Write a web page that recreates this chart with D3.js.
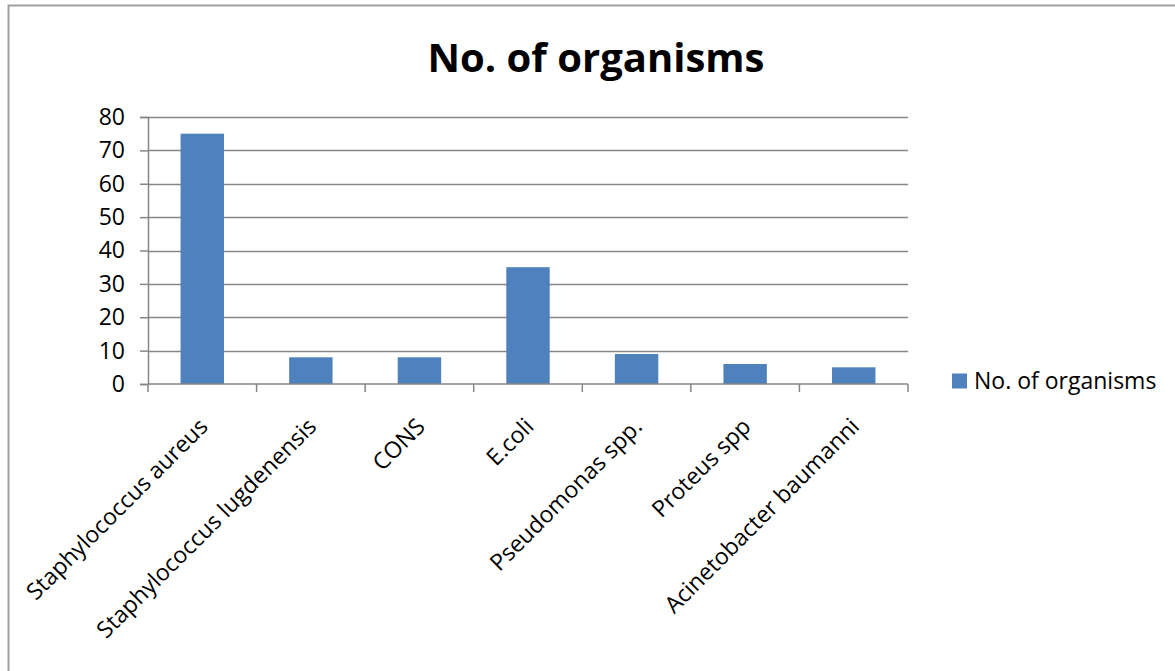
<!DOCTYPE html>
<html>
<head>
<meta charset="utf-8">
<script src="https://cdn.jsdelivr.net/npm/d3@7"></script>
<style>
  body { margin: 0; background: #fff; }
  svg, svg text { font-family: "Open Sans", sans-serif; }
</style>
</head>
<body>
<svg id="chart"></svg>
<script>
const categories = [
  'Staphylococcus aureus',
  'Staphylococcus lugdenensis',
  'CONS',
  'E.coli',
  'Pseudomonas spp.',
  'Proteus spp',
  'Acinetobacter baumanni'
];
const counts = [75, 8, 8, 35, 9, 6, 5];
const yTicks = [0, 10, 20, 30, 40, 50, 60, 70, 80];
const seriesName = 'No. of organisms';
const chartTitle = 'No. of organisms';

const width = 1175;
const height = 671;
const margin = { top: 117, right: 267, bottom: 287, left: 148 };
const innerW = width - margin.left - margin.right;
const innerH = height - margin.top - margin.bottom;
const barColor = '#4f81bd';
const gridColor = '#868686';
const labelSize = 23;

const svg = d3.select('#chart')
  .attr('width', width)
  .attr('height', height);

// outer chart border (runs off the right/bottom edge in the original)
svg.append('rect')
  .attr('x', 8.5).attr('y', 5.5)
  .attr('width', width + 10).attr('height', height + 10)
  .attr('fill', 'none')
  .attr('stroke', '#a0a0a0')
  .attr('stroke-width', 2);

svg.append('text')
  .attr('x', 596).attr('y', 72)
  .attr('text-anchor', 'middle')
  .attr('font-size', 40)
  .attr('font-weight', 'bold')
  .text(chartTitle);

const g = svg.append('g')
  .attr('transform', `translate(${margin.left},${margin.top})`);

const x = d3.scaleBand()
  .domain(categories)
  .range([0, innerW])
  .paddingInner(0.6)
  .paddingOuter(0.3);

const y = d3.scaleLinear()
  .domain([0, 80])
  .range([innerH, 0]);

// horizontal gridlines
g.append('g')
  .selectAll('line')
  .data(yTicks.filter(d => d > 0))
  .join('line')
  .attr('x1', 0).attr('x2', innerW)
  .attr('y1', d => Math.round(y(d)) + 0.5)
  .attr('y2', d => Math.round(y(d)) + 0.5)
  .attr('stroke', gridColor)
  .attr('stroke-width', 1.5);

// bars
g.append('g')
  .selectAll('rect')
  .data(counts)
  .join('rect')
  .attr('x', (d, i) => x(categories[i]))
  .attr('y', d => y(d))
  .attr('width', x.bandwidth())
  .attr('height', d => innerH - y(d))
  .attr('fill', barColor);

// y axis
const yAxis = g.append('g')
  .call(d3.axisLeft(y).tickValues(yTicks).tickSize(8).tickPadding(15));
yAxis.attr('font-family', null).attr('font-size', null);
yAxis.select('.domain').attr('stroke', gridColor).attr('stroke-width', 1.5);
yAxis.selectAll('.tick line').attr('stroke', gridColor).attr('stroke-width', 1.5);
yAxis.selectAll('.tick text')
  .attr('font-size', labelSize)
  .attr('fill', '#000');

// x axis: baseline plus ticks at category boundaries
const step = innerW / categories.length;
const bounds = d3.range(categories.length + 1).map(i => i * step);
const xAxisG = g.append('g').attr('transform', `translate(0,${innerH})`);
xAxisG.append('line')
  .attr('x1', 0).attr('x2', innerW)
  .attr('y1', 0).attr('y2', 0)
  .attr('stroke', gridColor)
  .attr('stroke-width', 1.5);
xAxisG.selectAll('line.tk')
  .data(bounds)
  .join('line')
  .attr('class', 'tk')
  .attr('x1', d => d).attr('x2', d => d)
  .attr('y1', 0).attr('y2', 8)
  .attr('stroke', gridColor)
  .attr('stroke-width', 1.5);

xAxisG.selectAll('text')
  .data(categories)
  .join('text')
  .attr('transform', d => `translate(${x(d) + x.bandwidth() / 2 + 7},${44}) rotate(-45)`)
  .attr('text-anchor', 'end')
  .attr('font-size', labelSize)
  .attr('fill', '#000')
  .text(d => d);

// legend
const legend = svg.append('g').attr('transform', 'translate(952,381)');
legend.append('rect')
  .attr('x', 0).attr('y', -7.5)
  .attr('width', 15).attr('height', 15)
  .attr('fill', barColor);
legend.append('text')
  .attr('x', 22).attr('y', 8)
  .attr('font-size', labelSize)
  .attr('fill', '#000')
  .text(seriesName);
</script>
</body>
</html>
